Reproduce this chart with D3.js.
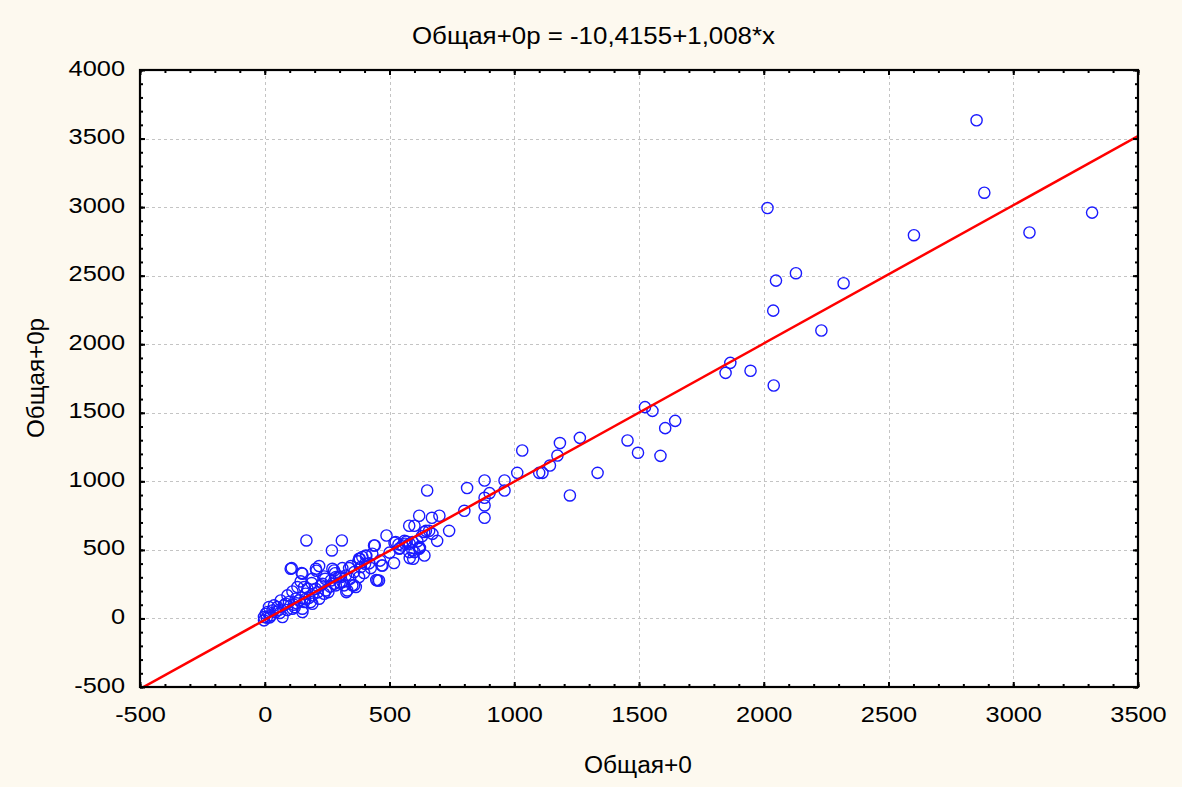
<!DOCTYPE html>
<html>
<head>
<meta charset="utf-8">
<script src="https://cdn.jsdelivr.net/npm/d3@7"></script>
<style>
  html, body { margin: 0; padding: 0; background: #fdf9ef; }
  svg { display: block; }
  text { font-family: "Liberation Sans", Arial, sans-serif; fill: #000; }
</style>
</head>
<body>
<svg id="chart" width="1182" height="787"></svg>
<script>
// Observations: Общая+0 (x) against Общая+0р (y)
const xValues = [
  2853, 2884, 3065, 3316, 2602, 2015, 2049, 2129, 2320, 2038, 2231, 1847, 1866, 1947, 2040,
  1524, 1554, 1645, 1605, 1454, 1496, 1586, 1263, 1183, 1173, 1143, 1100, 1113, 1032, 1012,
  1334, 1223, 961, 961, 881, 901, 881, 881, 881, 811, 800, 739, 651, 700, 670, 619, 579, 600,
  646, 659, 672, 691, 622, 560, 520, 488, 541, 581, 581, 600, 640, 595, 518, 469, 458,
  167, 309, 269, 108, 148, 207, 218, 144, 188, 238, 278, 311, 345, 381, 407, 438, 447, 552,
  592, 619, 639, 592, 568, 391, 375, 358, 327, 311, 285, 255, 238, 218, 184, 151, 124, 111,
  131, 171, 191, 164, 91, 64, 77, 51, 31, 11, -3, 4, 24, 44, 57, 37, 17, 97, 117, 138, 158,
  204, 225, 242, 265, 298, 325, 338, 358, 398, 402, 425, 351, 378,
  -3, 71, 84, 111, 104, 151, 158, 191, 205, 245, 271, 285, 318, 378, 191, 151,
  441, 525, 563, 539, 579, 619, 431, 472, 452, 405, 385, 331, 278, 305, 365,
  60, 90, 128, 178, 212, 262, 300, 342, 120, 162, 232, 282, 418, 462, 500, 536, 612, 630, 8, 20
];
const yValues = [
  3633, 3105, 2815, 2960, 2795, 2993, 2464, 2518, 2445, 2245, 2100, 1791, 1864, 1806, 1699,
  1541, 1514, 1441, 1388, 1298, 1208, 1186, 1317, 1279, 1188, 1115, 1062, 1062, 1225, 1062,
  1062, 897, 1006, 933, 1006, 914, 880, 824, 734, 951, 785, 639, 933, 749, 734, 749, 676, 676,
  639, 639, 617, 566, 515, 566, 552, 605, 513, 545, 440, 484, 459, 435, 404, 386, 277,
  569, 569, 496, 367, 331, 348, 382, 270, 258, 306, 350, 367, 382, 435, 455, 532, 280, 532,
  496, 520, 630, 557, 561, 448, 416, 241, 192, 265, 241, 192, 180, 144, 120, 71, 144, 197,
  229, 217, 168, 180, 168, 131, 95, 83, 58, 47, 10, 34, 22, 47, 63, 95, 83, 120, 100, 131, 120,
  217, 241, 289, 277, 306, 313, 367, 338, 331, 399, 367, 241, 302,
  -14, 10, 107, 71, 362, 326, 229, 289, 362, 204, 362, 302, 241, 435, 107, 47,
  532, 557, 545, 508, 484, 508, 472, 386, 277, 459, 375, 204, 253, 302, 229,
  40, 62, 110, 150, 190, 232, 262, 290, 82, 140, 252, 330, 402, 422, 480, 540, 562, 600, 6, 8
];

// Fitted line y = a + b*x
const fitIntercept = -10.4155;
const fitSlope = 1.008;

const xTicks = [-500, 0, 500, 1000, 1500, 2000, 2500, 3000, 3500];
const yTicks = [-500, 0, 500, 1000, 1500, 2000, 2500, 3000, 3500, 4000];
const titleText = "Общая+0р = -10,4155+1,008*x";
const xLabel = "Общая+0";
const yLabel = "Общая+0р";

const svg = d3.select("#chart");
const W = 1182, H = 787;
const plot = { left: 140, right: 1138, top: 70, bottom: 687 };

svg.append("rect").attr("width", W).attr("height", H).attr("fill", "#fdf9ef");

const x = d3.scaleLinear().domain([-500, 3500]).range([plot.left, plot.right]);
const y = d3.scaleLinear().domain([-500, 4000]).range([plot.bottom, plot.top]);

svg.append("defs").append("clipPath").attr("id", "plotClip")
  .append("rect")
  .attr("x", plot.left).attr("y", plot.top)
  .attr("width", plot.right - plot.left).attr("height", plot.bottom - plot.top);

// plot background
svg.append("rect")
  .attr("x", plot.left).attr("y", plot.top)
  .attr("width", plot.right - plot.left).attr("height", plot.bottom - plot.top)
  .attr("fill", "#ffffff");

// dashed grid at major ticks
const grid = svg.append("g").attr("stroke", "#c4c4c4").attr("stroke-width", 1)
  .attr("stroke-dasharray", "3,3").attr("shape-rendering", "crispEdges");
grid.selectAll("line.gx").data(xTicks.slice(1, -1)).join("line")
  .attr("x1", d => Math.round(x(d)) + 0.5).attr("x2", d => Math.round(x(d)) + 0.5)
  .attr("y1", plot.top).attr("y2", plot.bottom);
grid.selectAll("line.gy").data(yTicks.slice(1, -1)).join("line")
  .attr("y1", d => Math.round(y(d)) + 0.5).attr("y2", d => Math.round(y(d)) + 0.5)
  .attr("x1", plot.left).attr("x2", plot.right);

// scatter points
const pts = xValues.map((v, i) => [v, yValues[i]]);
svg.append("g").attr("clip-path", "url(#plotClip)")
  .selectAll("circle").data(pts).join("circle")
  .attr("cx", d => x(d[0])).attr("cy", d => y(d[1]))
  .attr("r", 5.6)
  .attr("fill", "none")
  .attr("stroke", "#1a1aff")
  .attr("stroke-width", 1.4);

// regression line
const xd = x.domain();
svg.append("line")
  .attr("clip-path", "url(#plotClip)")
  .attr("x1", x(xd[0])).attr("y1", y(fitIntercept + fitSlope * xd[0]))
  .attr("x2", x(xd[1])).attr("y2", y(fitIntercept + fitSlope * xd[1]))
  .attr("stroke", "#ff0000").attr("stroke-width", 2.5);

// inward ticks on all four sides
const minorX = d3.range(-500, 3501, 100);
const minorY = d3.range(-500, 4001, 100);
function tickAxis(axis, tx, ty, values, size) {
  const g = svg.append("g").attr("transform", `translate(${tx},${ty})`)
    .call(axis.tickValues(values).tickSize(size).tickSizeOuter(0).tickFormat(""));
  g.select(".domain").remove();
  g.selectAll("line").attr("stroke", "#000").attr("stroke-width", 2);
  return g;
}
tickAxis(d3.axisBottom(x), 0, plot.bottom, minorX, -3);
tickAxis(d3.axisBottom(x), 0, plot.bottom, xTicks, -5);
tickAxis(d3.axisTop(x), 0, plot.top, minorX, -3);
tickAxis(d3.axisTop(x), 0, plot.top, xTicks, -5);
tickAxis(d3.axisLeft(y), plot.left, 0, minorY, -3);
tickAxis(d3.axisLeft(y), plot.left, 0, yTicks, -5);
tickAxis(d3.axisRight(y), plot.right, 0, minorY, -3);
tickAxis(d3.axisRight(y), plot.right, 0, yTicks, -5);

// frame
svg.append("rect")
  .attr("x", plot.left).attr("y", plot.top)
  .attr("width", plot.right - plot.left).attr("height", plot.bottom - plot.top)
  .attr("fill", "none").attr("stroke", "#000").attr("stroke-width", 2.2);

// tick labels (the lettering is slightly widened), plain hyphen for negatives
const stretch = 1.18;
const fmt = d => String(d);
const xLab = svg.append("g").attr("transform", `translate(0,${plot.bottom})`)
  .call(d3.axisBottom(x).tickValues(xTicks).tickSize(0).tickFormat(fmt));
xLab.select(".domain").remove();
xLab.selectAll("text")
  .attr("x", 0).attr("y", 0).attr("dy", 0)
  .attr("font-size", 21.5).attr("fill", "#000")
  .attr("font-family", "Liberation Sans, Arial, sans-serif")
  .attr("transform", `translate(0,35) scale(${stretch},1)`);

const yLab = svg.append("g").attr("transform", `translate(${plot.left},0)`)
  .call(d3.axisLeft(y).tickValues(yTicks).tickSize(0).tickFormat(fmt));
yLab.select(".domain").remove();
yLab.selectAll("text")
  .attr("x", 0).attr("y", 0).attr("dy", 0)
  .attr("font-size", 21.5).attr("fill", "#000")
  .attr("font-family", "Liberation Sans, Arial, sans-serif")
  .attr("transform", `translate(-15,5) scale(${stretch},1)`);

// title and axis titles
svg.append("text")
  .attr("x", 593.5).attr("y", 44)
  .attr("text-anchor", "middle").attr("font-size", 23)
  .attr("textLength", 363).attr("lengthAdjust", "spacingAndGlyphs")
  .text(titleText);

svg.append("text")
  .attr("x", 638).attr("y", 773)
  .attr("text-anchor", "middle").attr("font-size", 23)
  .attr("textLength", 108).attr("lengthAdjust", "spacingAndGlyphs")
  .text(xLabel);

svg.append("text")
  .attr("transform", "translate(44,378) rotate(-90)")
  .attr("text-anchor", "middle").attr("font-size", 23)
  .attr("textLength", 120).attr("lengthAdjust", "spacingAndGlyphs")
  .text(yLabel);
</script>
</body>
</html>
